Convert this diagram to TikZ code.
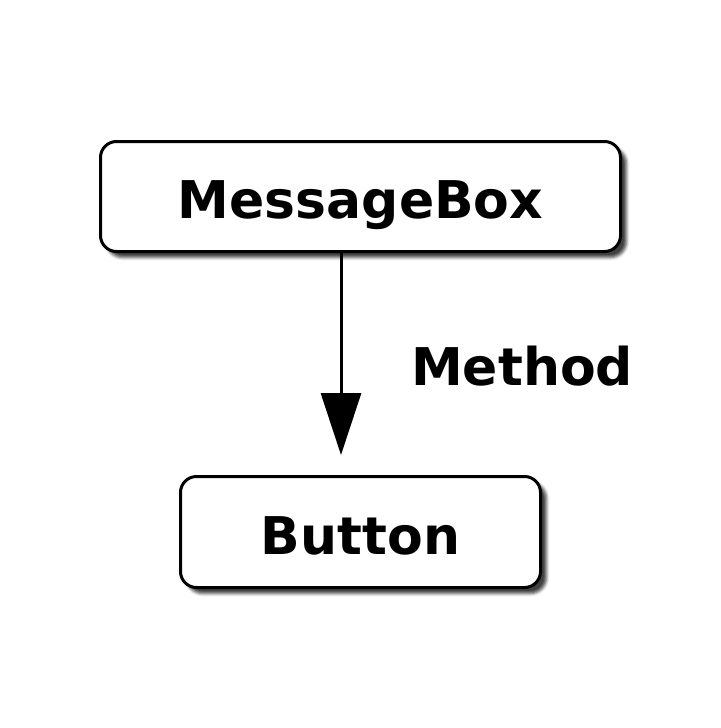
\documentclass[tikz,border=0pt]{standalone}
\usepackage{fontspec}
\setmainfont{DejaVu Sans}
\usetikzlibrary{positioning,arrows.meta,shadows.blur}

\begin{document}
\begin{tikzpicture}[
    x=1pt, y=-1pt,
    box/.style={rectangle, draw=black, line width=3pt, rounded corners=16pt, fill=white,
        blur shadow={shadow xshift=6pt, shadow yshift=-6pt, shadow blur radius=3pt, shadow opacity=75},
        font=\fontsize{52}{60}\selectfont\bfseries, text height=44pt, text depth=0pt, align=center},
    arrow/.style={-{Triangle[width=40pt,length=62pt]}, line width=3pt},
    label/.style={font=\fontsize{52}{60}\selectfont\bfseries, inner sep=0pt}
]
\useasboundingbox (0,0) rectangle (720,728);

% Nodes
\node[box, minimum width=520pt, minimum height=110pt] (msgbox) at (360.5,196.5) {MessageBox};
\node[box, minimum width=360pt, minimum height=111pt] (button) at (360.5,532) {Button};
\coordinate (tip) at (341,455);
\node[label, anchor=base west] (method) at (411,385) {Method};

% Arrows
\draw[arrow] (tip |- msgbox.south) -- (tip);

\end{tikzpicture}
\end{document}
